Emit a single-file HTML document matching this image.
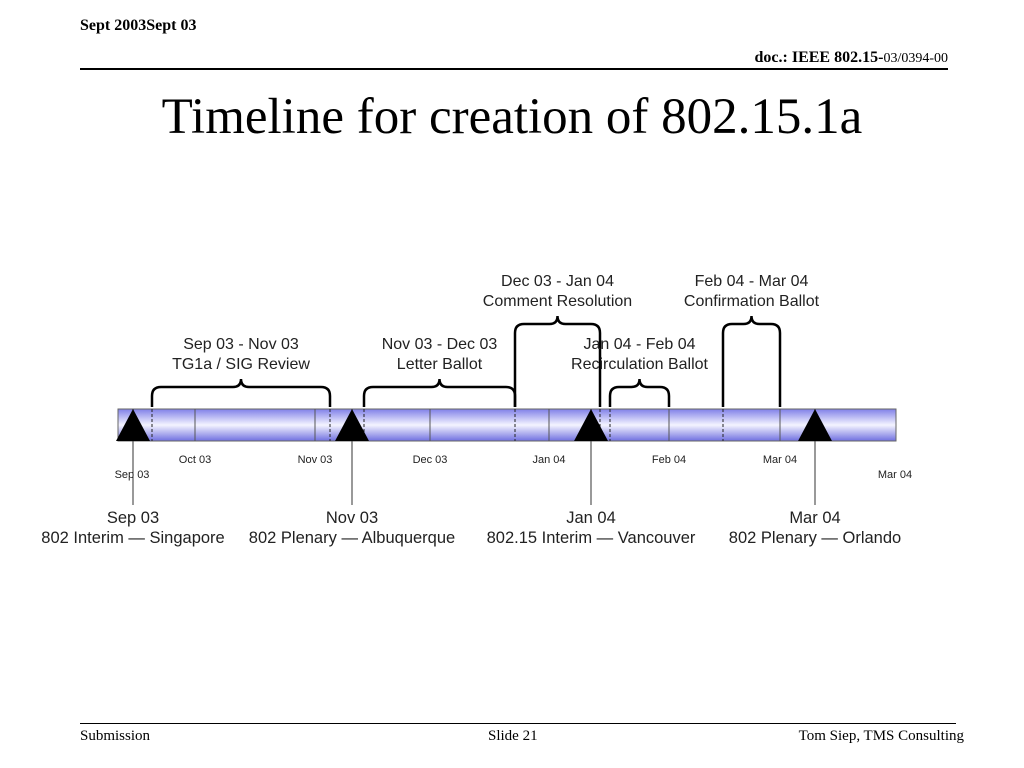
<!DOCTYPE html>
<html><head><meta charset="utf-8"><style>
body{margin:0;width:1024px;height:768px;background:#fff;overflow:hidden;position:relative;font-family:"Liberation Serif",serif}
.abs{position:absolute}
</style></head><body>
<div class="abs" style="left:80px;top:17px;font-size:16px;font-weight:bold;">Sept 2003Sept 03</div>
<div class="abs" style="right:76px;top:49px;font-size:16px;font-weight:bold;">doc.: IEEE 802.15-<span style="font-weight:normal;font-size:14px">03/0394-00</span></div>
<div class="abs" style="left:80px;top:68px;width:868px;height:2px;background:#000"></div>
<div class="abs" style="left:0;width:1024px;top:88px;text-align:center;font-size:51px;">Timeline for creation of 802.15.1a</div>
<div class="abs" style="left:80px;top:723px;width:876px;height:1px;background:#000"></div>
<div class="abs" style="left:80px;top:728px;font-size:15px;">Submission</div>
<div class="abs" style="left:488px;top:728px;font-size:15px;">Slide 21</div>
<div class="abs" style="right:60px;top:728px;font-size:15px;">Tom Siep, TMS Consulting</div>
<svg class="abs" style="left:0;top:0" width="1024" height="768" font-family="Liberation Sans, sans-serif">
<defs><linearGradient id="g" x1="0" y1="0" x2="0" y2="1">
<stop offset="0" stop-color="#8080e8"/><stop offset="0.5" stop-color="#f4f4ff"/><stop offset="1" stop-color="#7070e0"/></linearGradient></defs>
<g id="root"></g>
</svg>
<script>
// Data (timeline units along the bar)
const monthLabels=["Oct 03","Nov 03","Dec 03","Jan 04","Feb 04","Mar 04"];
const monthPos=[0.77,1.97,3.12,4.31,5.51,6.62];
const dashedPos=[0.34,2.12,2.46,3.97,4.82,4.92,6.05];
const milestonePos=[0.15,2.34,4.73,6.97];
const milestoneDate=["Sep 03","Nov 03","Jan 04","Mar 04"];
const milestoneName=["802 Interim \u2014 Singapore","802 Plenary \u2014 Albuquerque","802.15 Interim \u2014 Vancouver","802 Plenary \u2014 Orlando"];
const phaseStart=[0.34,2.46,3.97,4.92,6.05];
const phaseEnd=[2.12,3.97,4.82,5.51,6.62];
const phaseTall=[0,0,1,0,1];
const phaseDates=["Sep 03 - Nov 03","Nov 03 - Dec 03","Dec 03 - Jan 04","Jan 04 - Feb 04","Feb 04 - Mar 04"];
const phaseNames=["TG1a / SIG Review","Letter Ballot","Comment Resolution","Recirculation Ballot","Confirmation Ballot"];

const x0=118,x1=896,barTop=409,barBot=441;
function X(v){return 118+v*100;}
const root=document.getElementById('root');
const NS='http://www.w3.org/2000/svg';
function mk(t,a){const e=document.createElementNS(NS,t);for(const k in a)e.setAttribute(k,a[k]);root.appendChild(e);return e;}
let bar=mk('rect',{x:x0,y:barTop,width:x1-x0,height:barBot-barTop,fill:'url(#g)',stroke:'#666','stroke-width':1});


monthPos.forEach((m,i)=>{
 const l=mk('line',{x1:X(m),x2:X(m),y1:barTop,y2:barBot,stroke:'#555','stroke-width':1});
 
 
 const t=mk('text',{x:X(m),y:463,'font-size':11,'text-anchor':'middle',fill:'#222'});t.textContent=monthLabels[i];
 
 
});
let s=mk('text',{x:132,y:478,'font-size':11,'text-anchor':'middle',fill:'#222'});s.textContent='Sep 03';


let e=mk('text',{x:895,y:478,'font-size':11,'text-anchor':'middle',fill:'#222'});e.textContent='Mar 04';


dashedPos.forEach(d=>{
 const l=mk('line',{x1:X(d),x2:X(d),y1:barTop,y2:barBot,stroke:'#222','stroke-width':1,'stroke-dasharray':'3,2'});
 
 
});
phaseStart.forEach((a,i)=>{
 const xa=X(a),xb=X(phaseEnd[i]),xm=(xa+xb)/2;
 const top=phaseTall[i]?324:387, bot=407;
 const p=mk('path',{d:`M${xa},${bot} L${xa},${top+9} Q${xa},${top} ${xa+9},${top} L${xm-8},${top} Q${xm},${top} ${xm},${top-8} Q${xm},${top} ${xm+8},${top} L${xb-9},${top} Q${xb},${top} ${xb},${top+9} L${xb},${bot}`,fill:'none',stroke:'#000','stroke-width':2.5});
 
 
 const t1=mk('text',{x:xm,y:top-38,'font-size':16,'text-anchor':'middle',fill:'#222'});t1.textContent=phaseDates[i];
 
 
 const t2=mk('text',{x:xm,y:top-18,'font-size':16,'text-anchor':'middle',fill:'#222'});t2.textContent=phaseNames[i];
 
 
});
milestonePos.forEach((m,i)=>{
 const x=X(m);
 const l=mk('line',{x1:x,x2:x,y1:barTop,y2:505,stroke:'#333','stroke-width':1});
 
 
 const tri=mk('polygon',{points:`${x},${409} ${x-17},${441} ${x+17},${441}`,fill:'#000'});
 
 
 const t1=mk('text',{x:x,y:523,'font-size':16.5,'text-anchor':'middle',fill:'#222'});t1.textContent=milestoneDate[i];
 
 
 const t2=mk('text',{x:x,y:543,'font-size':16.5,'text-anchor':'middle',fill:'#222'});t2.textContent=milestoneName[i];
 
 
});
</script>
</body></html>
